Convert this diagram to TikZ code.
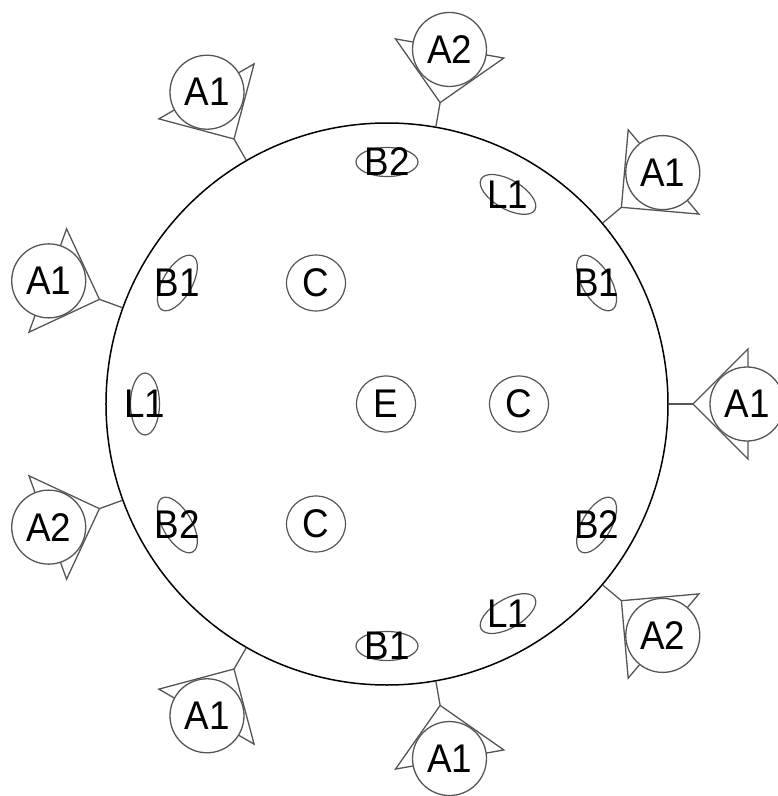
\documentclass[tikz,border=0pt]{standalone}
\usepackage{fontspec}
\setmainfont{Liberation Sans}
\newfontfamily\lblfont[FakeStretch=0.92]{Liberation Sans}
\usetikzlibrary{shapes.geometric}
\definecolor{antgray}{HTML}{555555}
\begin{document}
\begin{tikzpicture}[x=1pt,y=1pt,
  ant/.style={draw=antgray, line width=1.3pt, line join=miter},
  antnode/.style={circle, draw=antgray, line width=1.3pt, fill=white, minimum size=74pt, inner sep=0pt, font=\lblfont\fontsize{40}{44}\selectfont},
  lbl/.style={inner sep=0pt, font=\lblfont\fontsize{40}{44}\selectfont},
  ell/.style={draw=antgray, line width=1.2pt},
  ringstyle/.style={circle, draw=black, line width=1.5pt, minimum size=562pt, inner sep=0pt}]
\useasboundingbox (-387,-392) rectangle (391,404);
\node[ringstyle] (ring) at (0,0) {};
% antennas
\foreach \a/\t [count=\i] in {0/A1,40/A1,80/A2,120/A1,160/A1,200/A2,240/A1,280/A1,320/A2} {
  \coordinate (tip\i) at (\a:306);
  \draw[ant] (ring.\a) -- (tip\i);
  \begin{scope}[rotate=\a]
    \draw[ant] (tip\i) -- (361,55) -- (361,-55) -- cycle;
  \end{scope}
  \node[antnode] (ant\i) at (\a:360) {\t};
}
% ring of tilted ellipses
\foreach \a/\t in {30/B1,60/L1,90/B2,150/B1,180/L1,210/B2,270/B1,300/L1,330/B2} {
  \draw[ell, shift={(\a:242)}, rotate=\a+90] (0,0) ellipse [x radius=31, y radius=14.5];
  \node[lbl] (e\a) at (\a:242) {\t};
}
% inner nodes
\foreach \p/\t/\n in {{(-1,0)}/E/e, {(132,0)}/C/c1, {(-71,121)}/C/c2, {(-71,-120)}/C/c3} {
  \draw[ell] \p ellipse [x radius=29.5, y radius=28];
  \node[lbl] (\n) at \p {\t};
}
\end{tikzpicture}
\end{document}
